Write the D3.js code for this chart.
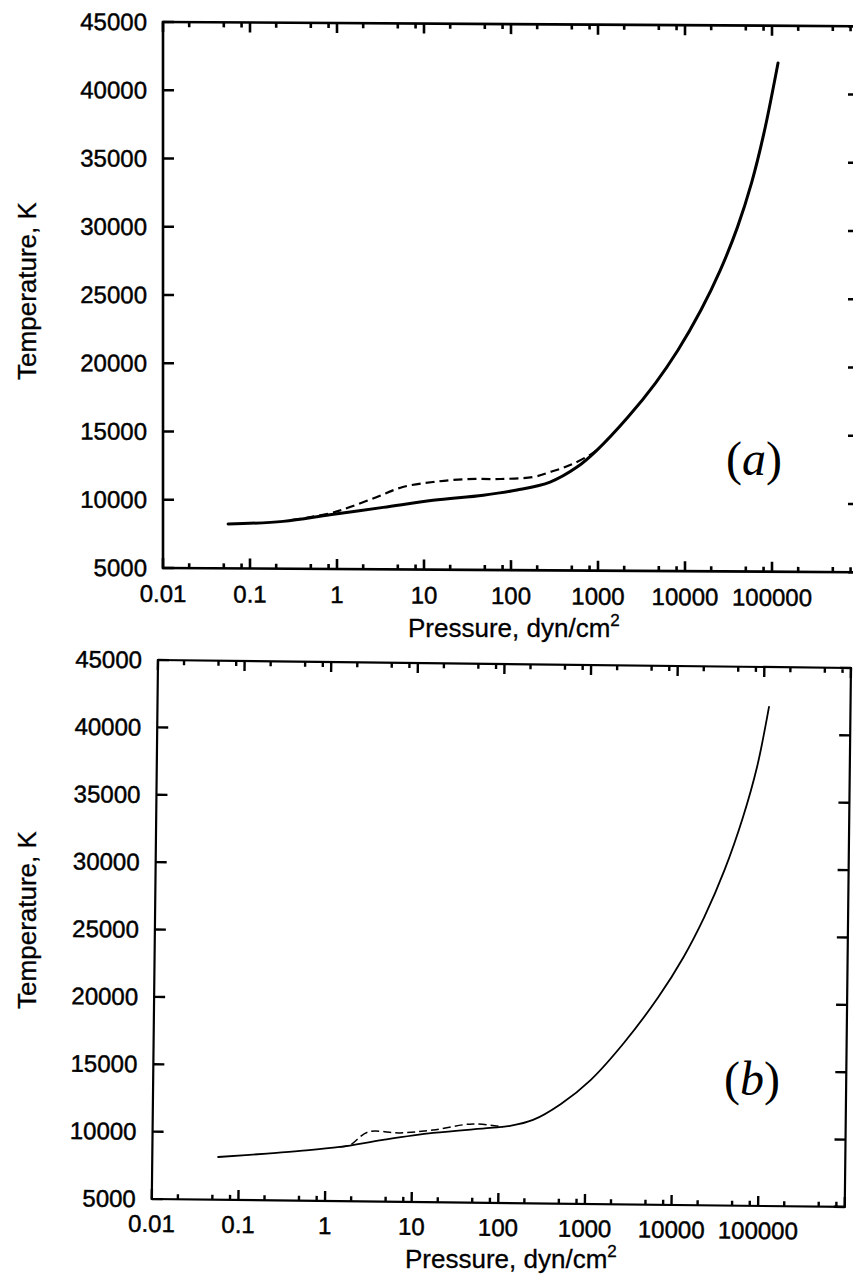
<!DOCTYPE html>
<html>
<head>
<meta charset="utf-8">
<script src="https://cdn.jsdelivr.net/npm/d3@7"></script>
<style>
  body { margin: 0; background: #fff; }
  svg { display: block; }
</style>
</head>
<body>
<svg id="chart" width="853" height="1282"></svg>
<script>
// Temperature vs pressure, two stacked panels (a) and (b).

const pressureMajor = [0.01, 0.1, 1, 10, 100, 1000, 10000, 100000, 1000000];
const pressureLabels = ["0.01", "0.1", "1", "10", "100", "1000", "10000", "100000"];
const minorSteps = [2, 5, 8];
const tempTicks = [5000, 10000, 15000, 20000, 25000, 30000, 35000, 40000, 45000];

// panel (a)
const solidA_P = [0.056, 0.24, 0.83, 3.4, 12.7, 48, 117, 281, 574, 975, 2213, 4580, 8320, 15270, 25450, 40100, 58100, 80900, 117300];
const solidA_T = [8250, 8470, 8980, 9540, 10080, 10480, 10870, 11470, 12580, 13835, 16270, 18770, 21200, 24140, 27070, 30230, 33460, 37140, 42270];
const dashA_P = [0.3, 0.83, 1.41, 2.88, 5.7, 12.7, 31, 75, 179, 281, 477, 877, 1000];
const dashA_T = [8560, 9080, 9550, 10300, 11040, 11420, 11650, 11670, 11830, 12200, 12720, 13620, 13950];

// panel (b)
const solidB_P = [0.0576, 0.211, 0.507, 1.46, 4.59, 17.3, 78.5, 133.6, 245.5, 513, 1120, 2680, 6620, 12790, 21930, 36970, 59450, 84900, 114600];
const solidB_T = [8170, 8470, 8690, 9020, 9580, 10140, 10560, 10730, 11190, 12400, 14200, 16980, 20420, 23410, 26400, 29905, 33850, 37570, 42040];
const dashB_P = [1.46, 1.91, 3.07, 7.19, 17.3, 50, 111];
const dashB_T = [9020, 9175, 10155, 10110, 10360, 10845, 10645];

const svg = d3.select("#chart");
const sans = "'Liberation Sans', Arial, Helvetica, sans-serif";
const serif = "'Liberation Serif', 'Times New Roman', serif";

function zip(ps, ts) {
  return ps.map((p, i) => [p, ts[i]]);
}

function drawPanel(opt) {
  const g = svg.append("g").attr("transform", opt.transform);

  const x = d3.scaleLog().domain([0.01, 1000000]).range([0, opt.w]);
  const y = d3.scaleLinear().domain([5000, 45000]).range([opt.h, 0]);

  const minor = pressureMajor.slice(0, -1).flatMap(p => minorSteps.map(m => p * m));

  // tick marks on all four sides, pointing into the plot
  let d = "";
  pressureMajor.forEach(p => {
    const px = x(p).toFixed(2);
    d += `M${px},0V10M${px},${opt.h}V${opt.h - 10}`;
  });
  minor.forEach(p => {
    const px = x(p).toFixed(2);
    d += `M${px},0V5M${px},${opt.h}V${opt.h - 5}`;
  });
  tempTicks.forEach(t => {
    const py = y(t).toFixed(2);
    d += `M0,${py}H11M${opt.w},${py}H${opt.w - 11}`;
  });
  g.append("path")
    .attr("d", d)
    .attr("fill", "none")
    .attr("stroke", "#000")
    .attr("stroke-width", opt.tickW);

  // tick labels
  const labels = g.append("g")
    .attr("font-family", sans)
    .attr("font-size", 24)
    .attr("fill", "#000")
    .attr("stroke", "#000")
    .attr("stroke-width", 0.45);

  labels.selectAll(null).data(pressureLabels).join("text")
    .attr("x", (d, i) => x(pressureMajor[i]))
    .attr("y", opt.h + opt.xPad)
    .attr("text-anchor", "middle")
    .text(d => d);

  labels.selectAll(null).data(tempTicks).join("text")
    .attr("x", -16)
    .attr("y", d => y(d))
    .attr("dy", "0.35em")
    .attr("text-anchor", "end")
    .text(d => d);

  g.append("rect")
    .attr("width", opt.w)
    .attr("height", opt.h)
    .attr("fill", "none")
    .attr("stroke", "#000")
    .attr("stroke-width", opt.frameW);

  const line = d3.line()
    .x(d => x(d[0]))
    .y(d => y(d[1]))
    .curve(d3.curveCatmullRom.alpha(0.5));

  g.append("path")
    .datum(opt.dashed)
    .attr("d", line)
    .attr("fill", "none")
    .attr("stroke", "#000")
    .attr("stroke-width", opt.dashW)
    .attr("stroke-dasharray", opt.dashArray);

  g.append("path")
    .datum(opt.solid)
    .attr("d", line)
    .attr("fill", "none")
    .attr("stroke", "#000")
    .attr("stroke-width", opt.solidW)
    .attr("stroke-linecap", "round");
}

drawPanel({
  transform: "translate(163,22) skewY(0.35)",
  w: 696, h: 546, xPad: 34,
  frameW: 2.6, tickW: 2.6,
  solidW: 3, dashW: 2.2, dashArray: "9,5",
  solid: zip(solidA_P, solidA_T),
  dashed: zip(dashA_P, dashA_T)
});

drawPanel({
  transform: "translate(158,660) rotate(0.66)",
  w: 693, h: 539, xPad: 33,
  frameW: 2.2, tickW: 2.4,
  solidW: 1.8, dashW: 1.5, dashArray: "8,4",
  solid: zip(solidB_P, solidB_T),
  dashed: zip(dashB_P, dashB_T)
});

// axis titles
function yTitle(cx, cy) {
  svg.append("text")
    .attr("transform", `translate(${cx},${cy}) rotate(-90)`)
    .attr("text-anchor", "middle")
    .attr("font-family", sans)
    .attr("font-size", 26)
    .attr("stroke", "#000")
    .attr("stroke-width", 0.3)
    .text("Temperature, K");
}

function xTitle(x0, y0) {
  const t = svg.append("text")
    .attr("x", x0)
    .attr("y", y0)
    .attr("font-family", sans)
    .attr("font-size", 26)
    .attr("stroke", "#000")
    .attr("stroke-width", 0.3);
  t.append("tspan").text("Pressure, dyn/cm");
  t.append("tspan").attr("font-size", 17).attr("dy", -11).text("2");
}

function panelLabel(cx, by, letter) {
  const t = svg.append("text")
    .attr("x", cx)
    .attr("y", by)
    .attr("text-anchor", "middle")
    .attr("font-family", serif)
    .attr("font-size", 48);
  t.append("tspan").text("(");
  t.append("tspan").attr("font-style", "italic").text(letter);
  t.append("tspan").text(")");
}

yTitle(36, 291);
yTitle(36, 920);
xTitle(408, 637);
xTitle(405, 1268);
panelLabel(754, 475, "a");
panelLabel(752, 1095, "b");
</script>
</body>
</html>
